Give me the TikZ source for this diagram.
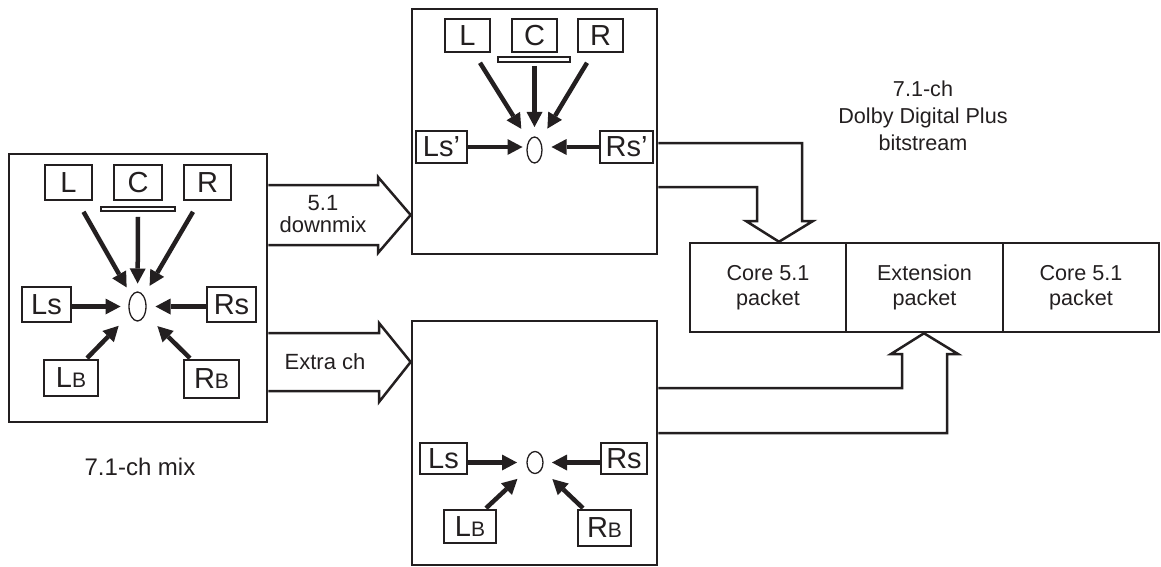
\documentclass[tikz,border=0pt]{standalone}
\usepackage{fontspec}
\setmainfont{Liberation Sans}
\usetikzlibrary{arrows.meta,shapes.geometric,calc}
\definecolor{ink}{RGB}{35,31,32}
\newcommand\chanfont{\fontsize{29}{29}\selectfont}
\newcommand\smallB{{\fontsize{21}{21}\selectfont B}}
\newcommand\lblfont{\fontsize{21.6}{25}\selectfont}
\begin{document}
\begin{tikzpicture}[x=1pt,y=-1pt,
  panel/.style={draw=ink, line width=2.7pt, inner sep=0pt},
  chbox/.style={draw=ink, line width=1.6pt, inner sep=0pt, font=\chanfont, text=ink},
  sumnode/.style={ellipse, draw=ink, line width=1.3pt, inner sep=0pt},
  chan/.style={draw=ink, line width=4.5pt,
               -{Triangle[length=15pt,width=16pt,line width=0pt]}},
  cbar/.style={draw=ink, line width=1.3pt, fill=white, inner sep=0pt},
  big/.style={draw=ink, line width=2.5pt, line join=miter},
  pkt/.style={draw=ink, line width=2.5pt, inner sep=0pt, minimum height=89pt,
              align=center, font=\lblfont, text=ink},
  lbl/.style={text=ink, inner sep=0pt, align=center}]
\useasboundingbox (0,0) rectangle (1161,567);

% ---------- panels ----------
\node[panel, minimum width=258pt, minimum height=268pt] (A) at (138,288) {};
\node[panel, minimum width=245pt, minimum height=245pt] (B) at (534.5,131.5) {};
\node[panel, minimum width=245pt, minimum height=244pt] (C) at (534.5,443) {};

% ---------- 7.1 mix ----------
\node[chbox, minimum width=47pt, minimum height=35pt] (aL) at (68.5,182.5) {L};
\node[chbox, minimum width=48pt, minimum height=35pt] (aC) at (138,182.5) {C};
\node[chbox, minimum width=47pt, minimum height=35pt] (aR) at (207.5,182.5) {R};
\node[cbar, minimum width=74pt, minimum height=4pt] (aBar) at (138,209) {};
\node[chbox, minimum width=49pt, minimum height=35pt] (aLs) at (46.5,304.5) {Ls};
\node[chbox, minimum width=49pt, minimum height=35pt] (aRs) at (231.5,304.5) {Rs};
\node[chbox, minimum width=54pt, minimum height=36pt] (aLB) at (71,378) {L\smallB};
\node[chbox, minimum width=55pt, minimum height=38pt] (aRB) at (211.5,379) {R\smallB};
\node[sumnode, minimum width=17pt, minimum height=29pt] (aE) at (137.5,306.5) {};

\draw[chan, shorten >=22pt] ([shift={(15,11)}]aL.south) -- (aE.center);
\draw[chan, shorten >=23pt] ([shift={(0,16)}]aC.south) -- (aE.center);
\draw[chan, shorten >=24pt] ([shift={(-14.5,11)}]aR.south) -- (aE.center);
\draw[chan, shorten >=17pt] (aLs.east |- aE.center) -- (aE.center);
\draw[chan, shorten >=18pt] (aRs.west |- aE.center) -- (aE.center);
\draw[chan, shorten >=27pt] ([shift={(16,-1)}]aLB.north) -- (aE.center);
\draw[chan, shorten >=28pt] ([shift={(-21.5,-1)}]aRB.north) -- (aE.center);

\node[lbl, font=\fontsize{24}{24}\selectfont] (mixlbl) at (140,467) {7.1-ch mix};

% ---------- 5.1 downmix ----------
\node[chbox, minimum width=45pt, minimum height=33pt] (bL) at (467.5,35.5) {L};
\node[chbox, minimum width=45pt, minimum height=33pt] (bC) at (534.5,35.5) {C};
\node[chbox, minimum width=45pt, minimum height=33pt] (bR) at (600.5,35.5) {R};
\node[cbar, minimum width=72pt, minimum height=5pt] (bBar) at (534,59.5) {};
\node[chbox, minimum width=51pt, minimum height=32pt] (bLs) at (441.5,147) {Ls’};
\node[chbox, minimum width=53pt, minimum height=32pt] (bRs) at (626.5,147) {Rs’};
\node[sumnode, minimum width=15pt, minimum height=26pt] (bE) at (534.5,150) {};

\draw[chan, shorten >=25pt] ([shift={(12.5,10)}]bL.south) -- (bE.center);
\draw[chan, shorten >=23pt] ([shift={(0,13)}]bC.south) -- (bE.center);
\draw[chan, shorten >=25pt] ([shift={(-13.5,10)}]bR.south) -- (bE.center);
\draw[chan, shorten >=12pt] (bLs.east) -- (bLs.east -| bE.center);
\draw[chan, shorten >=17pt] (bRs.west) -- (bRs.west -| bE.center);

% ---------- extra channels ----------
\node[chbox, minimum width=47pt, minimum height=31pt] (cLs) at (443.5,458.5) {Ls};
\node[chbox, minimum width=46pt, minimum height=31pt] (cRs) at (624,458.5) {Rs};
\node[chbox, minimum width=52pt, minimum height=33pt] (cLB) at (470,526.5) {L\smallB};
\node[chbox, minimum width=53pt, minimum height=36pt] (cRB) at (604.5,528) {R\smallB};
\node[sumnode, minimum width=16pt, minimum height=22pt] (cE) at (535,462.5) {};

\draw[chan, shorten >=18pt] (cLs.east |- cE.center) -- (cE.center);
\draw[chan, shorten >=17pt] (cRs.west |- cE.center) -- (cE.center);
\draw[chan, shorten >=24pt] ([shift={(16,-1)}]cLB.north) -- (cE.center);
\draw[chan, shorten >=24pt] ([shift={(-21.5,-1)}]cRB.north) -- (cE.center);

% ---------- wide arrows between panels ----------
\draw[big] (A.east |- 0,185) -- (378,185) -- (378,177) -- (B.west |- 0,215)
  -- (378,253) -- (378,245) -- (A.east |- 0,245);
\node[lbl, font=\fontsize{22}{22}\selectfont] (dmxlbl) at (323,214) {5.1\\downmix};

\draw[big] (A.east |- 0,333) -- (379,333) -- (379,323) -- (C.west |- 0,362)
  -- (379,402) -- (379,391) -- (A.east |- 0,391);
\node[lbl, font=\fontsize{22}{22}\selectfont, anchor=base] (xlbl) at (325,369) {Extra ch};

% ---------- bitstream ----------
\node[pkt, minimum width=156pt] (P1) at (768,287.5) {Core 5.1\\packet};
\node[pkt, minimum width=157pt] (P2) at (924.5,287.5) {Extension\\packet};
\node[pkt, minimum width=156pt] (P3) at (1081,287.5) {Core 5.1\\packet};

\node[lbl, font=\fontsize{21.6}{27}\selectfont] (title) at (923,116)
  {7.1-ch\\Dolby Digital Plus\\bitstream};

\draw[big] (B.east |- 0,143) -- (802,143) -- (802,221) -- (813,221)
  -- (779,0 |- P1.north) -- (746,221) -- (757,221) -- (757,187) -- (B.east |- 0,187);
\draw[big] (C.east |- 0,433) -- (947,433) -- (947,354) -- (958,354)
  -- (924,0 |- P2.south) -- (891,354) -- (902,354) -- (902,388) -- (C.east |- 0,388);
\end{tikzpicture}
\end{document}
